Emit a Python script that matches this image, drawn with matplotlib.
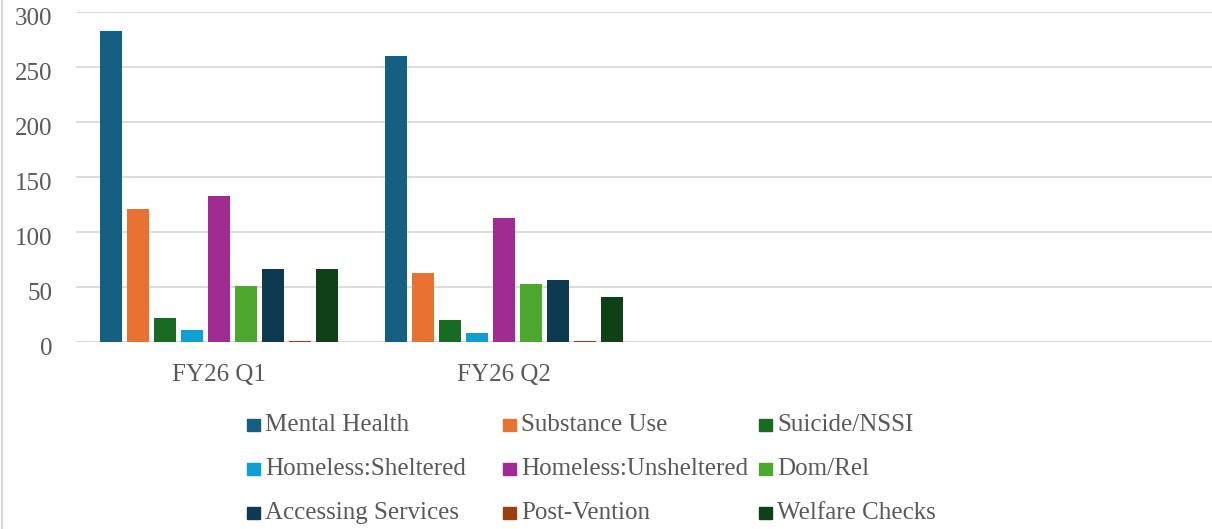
import matplotlib.pyplot as plt
from matplotlib.patches import Rectangle
from matplotlib.lines import Line2D
from matplotlib.transforms import ScaledTranslation
import numpy as np

quarters = ["FY26 Q1", "FY26 Q2"]

series = ["Mental Health", "Substance Use", "Suicide/NSSI",
          "Homeless:Sheltered", "Homeless:Unsheltered", "Dom/Rel",
          "Accessing Services", "Post-Vention", "Welfare Checks"]

mental_health = [283, 260]
substance_use = [121, 63]
suicide_nssi = [22, 20]
homeless_sheltered = [11, 8]
homeless_unsheltered = [133, 113]
dom_rel = [51, 53]
accessing_services = [66, 56]
post_vention = [1, 1]
welfare_checks = [66, 41]

values = [mental_health, substance_use, suicide_nssi, homeless_sheltered,
          homeless_unsheltered, dom_rel, accessing_services, post_vention,
          welfare_checks]

colors = ["#156082", "#E97132", "#196B24", "#0F9ED5", "#A02B93",
          "#4EA72E", "#0D3A4E", "#993F10", "#0F4016"]

txt = "#595959"
grid = "#d9d9d9"
plt.rcParams['font.family'] = ['Liberation Serif', 'DejaVu Serif']

W, H = 1212, 529
fig = plt.figure(figsize=(W / 100, H / 100), dpi=100)

# axes in pixel terms: left 76, top 12, bottom 342, running off the right edge
ax = fig.add_axes([76 / W, 1 - 342 / H, 1136 / W, 330 / H])

# one slot per quarter of the year; Q3/Q4 slots are still empty
slot_px = 285.5
pitch = 27 / slot_px
bw = 22 / slot_px
x = np.arange(len(quarters))
for i, (vals, c) in enumerate(zip(values, colors)):
    ax.bar(x + (i - 4) * pitch, vals, bw, color=c, zorder=3)

ax.set_xlim(-0.5, -0.5 + 1136 / slot_px)
ax.set_ylim(0, 300)
ax.set_yticks(range(0, 301, 50))
ax.set_xticks(x)
ax.set_xticklabels(quarters)

ax.grid(axis='y', color=grid, linewidth=1.3, zorder=0)
ax.axhline(0, color=grid, linewidth=1.6, zorder=2)
for s in ax.spines.values():
    s.set_visible(False)
ax.tick_params(axis='both', length=0, labelsize=18, labelcolor=txt)
ax.tick_params(axis='y', pad=17)
ax.tick_params(axis='x', pad=16)

# nudge value labels a little below their gridlines
shift = ScaledTranslation(0, -3 / 72, fig.dpi_scale_trans)
for lbl in ax.get_yticklabels():
    lbl.set_transform(lbl.get_transform() + shift)

# legend laid out row by row, three to a row
col_x = [247, 503, 759]
row_base = [431, 475, 519]
sq = 12.5
for i, (name, c) in enumerate(zip(series, colors)):
    r, k = divmod(i, 3)
    x0 = col_x[k]
    yb = row_base[r]
    fig.patches.append(Rectangle((x0 / W, 1 - yb / H), sq / W, sq / H,
                                 transform=fig.transFigure, color=c))
    fig.text((x0 + 18) / W, 1 - yb / H, name, fontsize=18, color=txt,
             va='baseline', ha='left')

# chart area border (left edge only shows)
fig.add_artist(Line2D([2 / W, 2 / W], [0, 1], color=grid, linewidth=1.5,
                      transform=fig.transFigure))

fig.savefig("out.png", dpi=100)
